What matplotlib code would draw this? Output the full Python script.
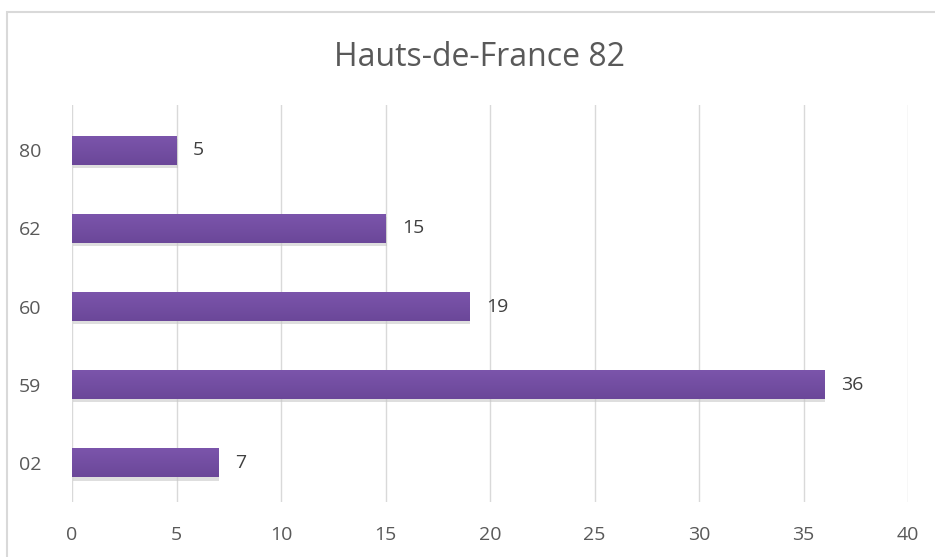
import numpy as np
import matplotlib.pyplot as plt
from matplotlib.patches import Rectangle
from matplotlib.colors import LinearSegmentedColormap

departements = ['02', '59', '60', '62', '80']
counts = [7, 36, 19, 15, 5]
xticks = [0, 5, 10, 15, 20, 25, 30, 35, 40]

plt.rcParams['font.family'] = ['Open Sans', 'DejaVu Sans']
grey = '#595959'

fig = plt.figure(figsize=(9.35, 5.57), dpi=100)
W, H = 935, 557

# chart border (cut at right / bottom like the screenshot)
fig.patches.append(Rectangle((7 / W, -0.1), 1.1, (H - 12) / H + 0.1, transform=fig.transFigure,
                             fill=False, edgecolor='#d9d9d9', linewidth=1.5))

ax = fig.add_axes([72 / W, (H - 502) / H, (908 - 72) / W, (502 - 105) / H])

y = list(range(len(departements)))
bh = 0.37
# soft shadow under bars
ax.barh([v - 0.04 for v in y], counts, height=bh, left=0.05, color='#c8c8c8', alpha=0.6, zorder=2)
bars = ax.barh(y, counts, height=bh, color='#7350a5', zorder=3)

# light vertical gradient inside each bar
cmap = LinearSegmentedColormap.from_list('purp', ['#6b4799', '#7b55ab'])
grad = np.linspace(0, 1, 64).reshape(-1, 1)
for b in bars:
    im = ax.imshow(grad, cmap=cmap, aspect='auto', origin='lower', zorder=4,
                   extent=[b.get_x(), b.get_x() + b.get_width(), b.get_y(), b.get_y() + b.get_height()])
    im.set_clip_path(b)

for b, v in zip(bars, counts):
    ax.text(v + 0.8, b.get_y() + b.get_height() / 2, str(v), va='center', ha='left',
            fontsize=14, color='#404040')

ax.set_xlim(0, 40)
ax.set_ylim(-0.5, 4.58)
ax.set_xticks(xticks)
ax.set_yticks(y)
ax.set_yticklabels(departements)
ax.grid(axis='x', color='#d9d9d9', linewidth=1, zorder=0)
for s in ax.spines.values():
    s.set_visible(False)
ax.tick_params(length=0, labelsize=14, labelcolor=grey)
ax.tick_params(axis='x', pad=17)
ax.tick_params(axis='y', pad=22)

fig.text(479 / W, (H - 57) / H, 'Hauts-de-France 82', ha='center', va='center', fontsize=23, color=grey)

fig.savefig('out.png', dpi=100)
